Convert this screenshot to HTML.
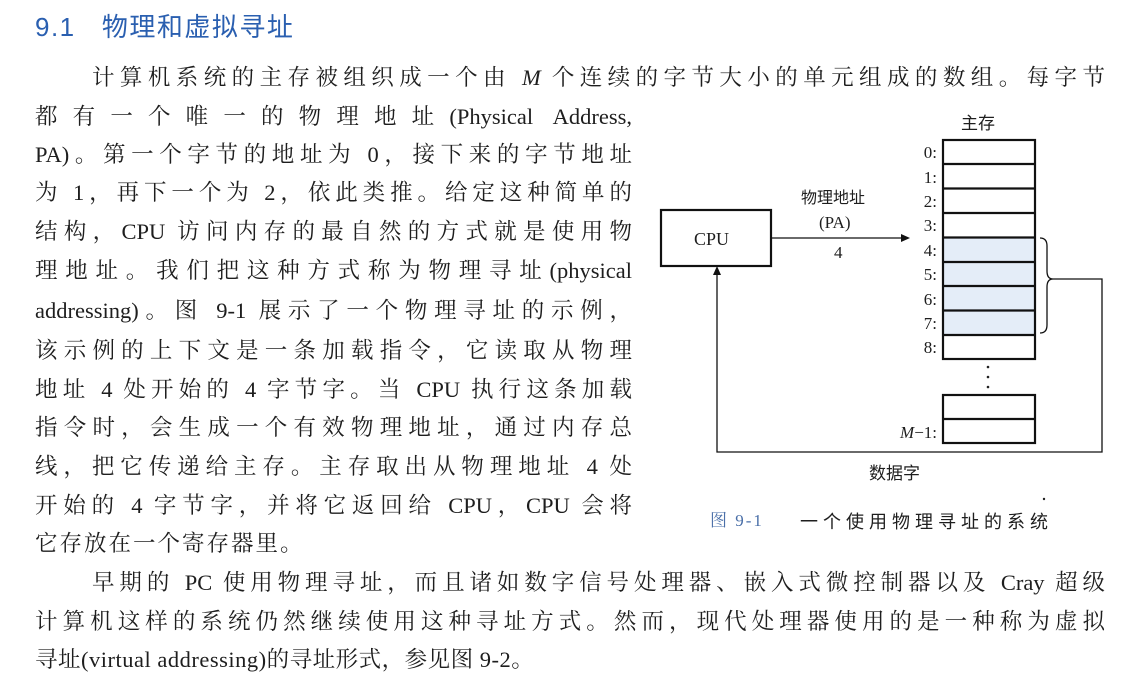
<!DOCTYPE html>
<html><head><meta charset="utf-8"><style>
body{margin:0;width:1138px;height:685px;background:#fff;position:relative;overflow:hidden;font-family:"Liberation Serif","Noto Serif CJK SC",serif;color:#1e1e1e}
.l{position:absolute;font-size:22.5px;line-height:28px;height:28px;white-space:nowrap;text-align:justify;text-align-last:justify}
.n{text-align-last:left}
.t{position:absolute;left:35px;top:7px;font-family:"Liberation Sans","Noto Sans CJK SC",sans-serif;font-size:26px;color:#2a5fb0;letter-spacing:1.5px}
.d{position:absolute;font-size:17px;line-height:20px;white-space:nowrap}
.lab{position:absolute;font-size:17px;line-height:20px;width:60px;text-align:right}
i{font-style:italic}
</style></head><body>
<div class="t">9.1&nbsp;&nbsp;&nbsp;物理和虚拟寻址</div>
<div class="l" style="left:92px;width:1013px;top:64px">计算机系统的主存被组织成一个由 <i>M</i> 个连续的字节大小的单元组成的数组。每字节</div>
<div class="l" style="left:35px;width:597px;top:103px">都有一个唯一的物理地址(Physical Address,</div>
<div class="l" style="left:35px;width:597px;top:141px">PA)。第一个字节的地址为 0，接下来的字节地址</div>
<div class="l" style="left:35px;width:597px;top:179px">为 1，再下一个为 2，依此类推。给定这种简单的</div>
<div class="l" style="left:35px;width:597px;top:218px">结构，CPU 访问内存的最自然的方式就是使用物</div>
<div class="l" style="left:35px;width:597px;top:257px">理地址。我们把这种方式称为物理寻址(physical</div>
<div class="l" style="left:35px;width:597px;top:297px">addressing)。图 9-1 展示了一个物理寻址的示例，</div>
<div class="l" style="left:35px;width:597px;top:337px">该示例的上下文是一条加载指令，它读取从物理</div>
<div class="l" style="left:35px;width:597px;top:376px">地址 4 处开始的 4 字节字。当 CPU 执行这条加载</div>
<div class="l" style="left:35px;width:597px;top:414px">指令时，会生成一个有效物理地址，通过内存总</div>
<div class="l" style="left:35px;width:597px;top:453px">线，把它传递给主存。主存取出从物理地址 4 处</div>
<div class="l" style="left:35px;width:597px;top:492px">开始的 4 字节字，并将它返回给 CPU，CPU 会将</div>
<div class="l n" style="left:35px;top:530px;letter-spacing:2px">它存放在一个寄存器里。</div>
<div class="l" style="left:92px;width:1013px;top:569px">早期的 PC 使用物理寻址，而且诸如数字信号处理器、嵌入式微控制器以及 Cray 超级</div>
<div class="l" style="left:35px;width:1070px;top:608px">计算机这样的系统仍然继续使用这种寻址方式。然而，现代处理器使用的是一种称为虚拟</div>
<div class="l n" style="left:35px;top:646px;letter-spacing:0.5px">寻址(virtual addressing)的寻址形式，参见图 9-2。</div>

<svg style="position:absolute;left:0;top:0" width="1138" height="685">
<rect x="943" y="237.5" width="92" height="97" fill="#e4edf8"/>
<g stroke="#111" stroke-width="2.2" fill="none">
<rect x="661" y="210" width="110" height="56"/>
<rect x="943" y="140" width="92" height="219"/>
<line x1="943" y1="164" x2="1035" y2="164"/><line x1="943" y1="188.5" x2="1035" y2="188.5"/>
<line x1="943" y1="213" x2="1035" y2="213"/><line x1="943" y1="237.5" x2="1035" y2="237.5"/>
<line x1="943" y1="262" x2="1035" y2="262"/><line x1="943" y1="286" x2="1035" y2="286"/>
<line x1="943" y1="310.5" x2="1035" y2="310.5"/><line x1="943" y1="335" x2="1035" y2="335"/>
<rect x="943" y="395" width="92" height="48"/><line x1="943" y1="419" x2="1035" y2="419"/>
</g>
<g stroke="#111" stroke-width="1.3" fill="none">
<line x1="771" y1="238" x2="905" y2="238"/>
<path d="M1040 238 q7 0 7 8 v25 q0 8 6 8 q-6 0 -6 8 v38 q0 8 -7 8"/>
<polyline points="1053,279 1102,279 1102,452 717,452 717,272"/>
</g>
<polygon points="910,238 901,234 901,242" fill="#111"/>
<polygon points="717,266 713,275 721,275" fill="#111"/>
<g fill="#222"><circle cx="988" cy="367" r="1.3"/><circle cx="988" cy="377" r="1.3"/><circle cx="988" cy="387" r="1.3"/><circle cx="1044" cy="499" r="1.2"/></g>
</svg>
<div class="d" style="left:961px;top:112px;font-family:'Noto Sans CJK SC',sans-serif">主存</div>
<div class="d" style="left:694px;top:229px;font-size:18px">CPU</div>
<div class="d" style="left:801px;top:186px;font-family:'Noto Sans CJK SC',sans-serif;font-size:16px">物理地址</div>
<div class="d" style="left:819px;top:213px">(PA)</div>
<div class="d" style="left:834px;top:243px">4</div>
<div class="lab" style="left:877px;top:143px">0:</div>
<div class="lab" style="left:877px;top:168px">1:</div>
<div class="lab" style="left:877px;top:192px">2:</div>
<div class="lab" style="left:877px;top:216px">3:</div>
<div class="lab" style="left:877px;top:241px">4:</div>
<div class="lab" style="left:877px;top:265px">5:</div>
<div class="lab" style="left:877px;top:290px">6:</div>
<div class="lab" style="left:877px;top:314px">7:</div>
<div class="lab" style="left:877px;top:338px">8:</div>
<div class="lab" style="left:857px;top:423px;width:80px"><i>M</i>−1:</div>
<div class="d" style="left:869px;top:462px;font-family:'Noto Sans CJK SC',sans-serif">数据字</div>
<div class="d" style="left:710px;top:511px;font-size:17px;color:#4a6fa8;font-family:'Liberation Serif','Noto Serif CJK SC',serif;letter-spacing:2px">图 9-1</div>
<div class="d" style="left:800px;top:511px;font-size:18px;font-family:'Noto Sans CJK SC',sans-serif;letter-spacing:5px">一个使用物理寻址的系统</div>
</body></html>
